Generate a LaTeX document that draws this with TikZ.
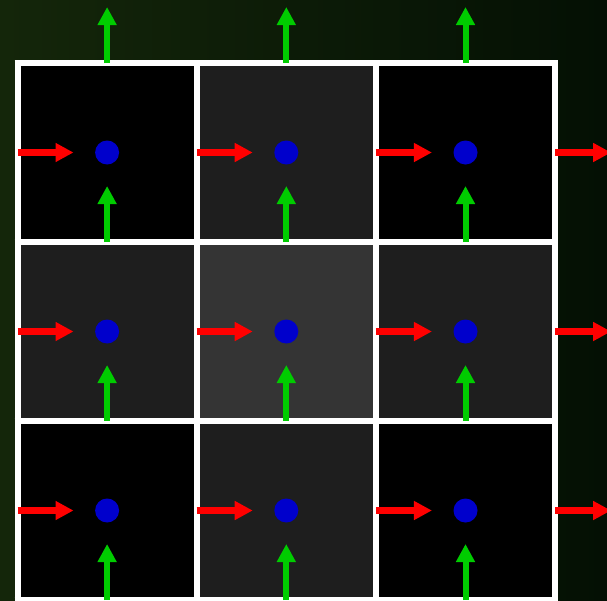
\documentclass[tikz,border=0pt]{standalone}
\usetikzlibrary{arrows.meta}
\definecolor{bgL}{RGB}{20,38,10}
\definecolor{bgR}{RGB}{4,16,4}
\definecolor{cellA}{RGB}{0,0,0}
\definecolor{cellB}{RGB}{30,30,30}
\definecolor{cellC}{RGB}{52,52,52}
\definecolor{dotblue}{RGB}{0,0,204}
\definecolor{arrred}{RGB}{255,0,0}
\definecolor{arrgreen}{RGB}{0,204,0}
\tikzset{
  gridline/.style={white, line width=6pt},
  redarrow/.style={arrred, line width=7pt, -{Triangle[length=18pt,width=18pt]}},
  greenarrow/.style={arrgreen, line width=6pt, -{Triangle[length=18pt,width=18pt]}},
  dotnode/.style={circle, fill=dotblue, inner sep=0pt, minimum size=24pt}
}
\begin{document}
\begin{tikzpicture}[x=1pt,y=-1pt]
\useasboundingbox (0,0) rectangle (607,600);
\clip (0,0) rectangle (607,600);
\shade[left color=bgL, right color=bgR] (0,0) rectangle (607,600);
% cell fills
\foreach \i/\j/\c in {0/0/cellA,1/0/cellB,2/0/cellA,0/1/cellB,1/1/cellC,2/1/cellB,0/2/cellA,1/2/cellB,2/2/cellA}{
  \fill[\c] ({17.5+179.2*\i},{63+179*\j}) rectangle ({17.5+179.2*(\i+1)},{63+179*(\j+1)});
}
% grid lines
\foreach \i in {0,1,2,3}{
  \draw[gridline] ({17.5+179.2*\i},60) -- ({17.5+179.2*\i},603);
  \draw[gridline] (14.5,{63+179*\i}) -- (558,{63+179*\i});
}
% red arrows
\foreach \i in {0,1,2,3}{
  \foreach \j in {0,1,2}{
    \coordinate (rs-\i-\j) at ({17.5+179.2*\i},{152.5+179*\j});
    \coordinate (re-\i-\j) at ({17.5+179.2*\i+56},{152.5+179*\j});
    \draw[redarrow] (rs-\i-\j) -- (re-\i-\j);
  }
}
% green arrows
\foreach \i in {0,1,2}{
  \foreach \k in {0,1,2,3}{
    \coordinate (gs-\i-\k) at ({107.1+179.2*\i},{63+179*\k});
    \coordinate (ge-\i-\k) at ({107.1+179.2*\i},{63+179*\k-56});
    \draw[greenarrow] (gs-\i-\k) -- (ge-\i-\k);
  }
}
% dots
\foreach \i in {0,1,2}{
  \foreach \j in {0,1,2}{
    \node[dotnode] (d-\i-\j) at ({107.1+179.2*\i},{152.5+179*\j}) {};
  }
}
\end{tikzpicture}
\end{document}
